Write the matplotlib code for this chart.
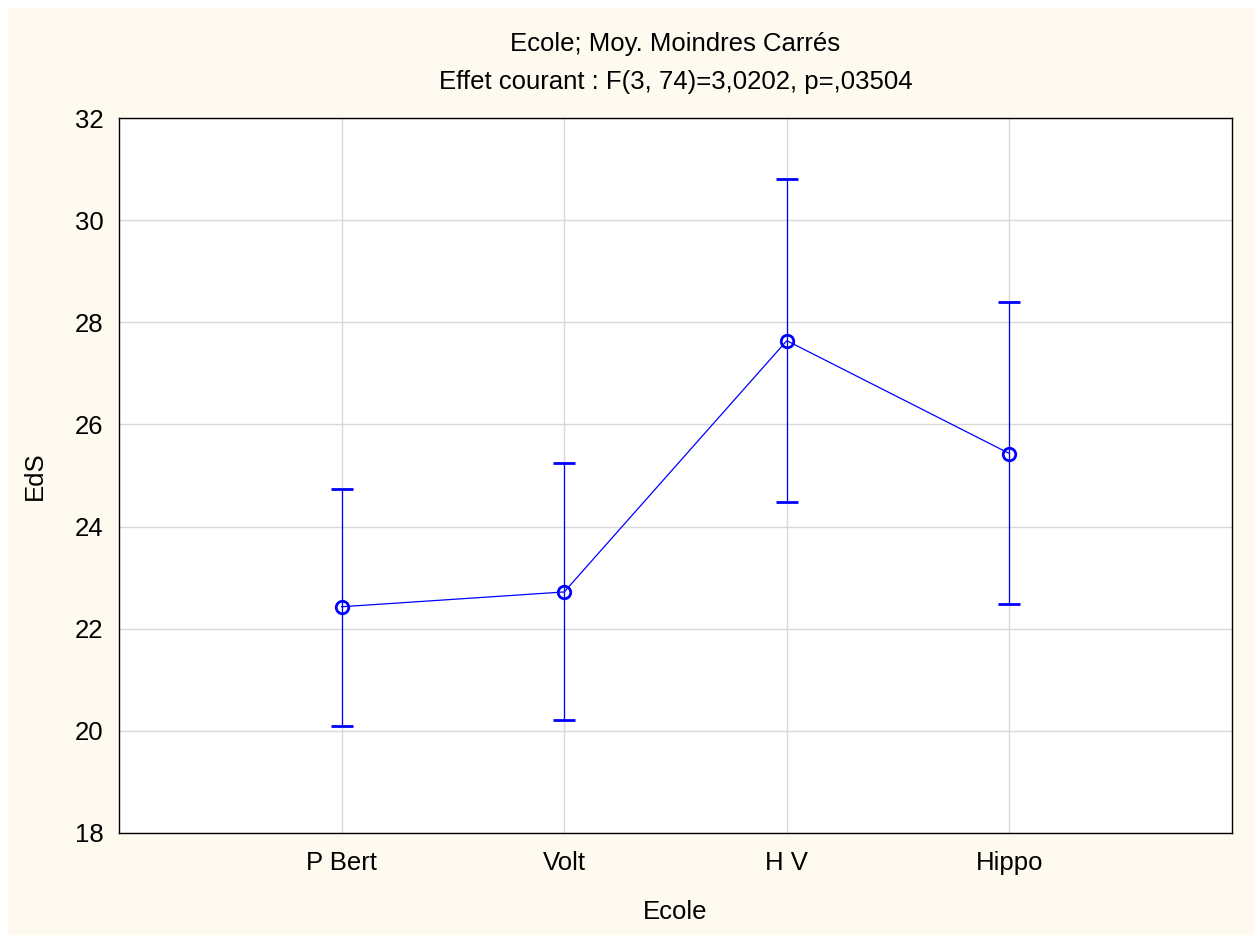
import numpy as np
import matplotlib.pyplot as plt
from matplotlib.patches import Rectangle

ecoles = ['P Bert', 'Volt', 'H V', 'Hippo']
moyennes = np.array([22.43, 22.72, 27.64, 25.43])
bas = np.array([20.10, 20.21, 24.48, 22.48])
haut = np.array([24.74, 25.24, 30.80, 28.40])

plt.rcParams['font.family'] = ['Liberation Sans', 'DejaVu Sans']

fig = plt.figure(figsize=(12.55, 9.35), dpi=100)
fig.patch.set_facecolor('white')
# fond crème avec une petite marge blanche en haut et à gauche
fig.patches.append(Rectangle((8 / 1255, -0.01), 1.02, 1.01 - 8 / 935, transform=fig.transFigure,
                             facecolor='#fffaf0', edgecolor='none', zorder=-10))

ax = fig.add_axes([119 / 1255, 1 - 833 / 935, (1232 - 119) / 1255, (833 - 118) / 935])
ax.set_facecolor('white')

x = np.arange(len(ecoles))
ax.errorbar(x, moyennes, yerr=[moyennes - bas, haut - moyennes], color='#0000ff',
            lw=0.9, elinewidth=0.9, capsize=8, capthick=0.9, marker='o', ms=9,
            mfc='none', mec='#0000ff', mew=2, zorder=3)

ax.set_xlim(-1, 4)
ax.set_ylim(18, 32)
ax.set_xticks(x)
ax.set_xticklabels(ecoles)
ax.set_yticks(np.arange(18, 33, 2))
ax.grid(True, color='#d8d8d8', lw=1)
ax.set_axisbelow(True)
ax.tick_params(labelsize=18.5, length=0)
ax.tick_params(axis='y', pad=11)
ax.tick_params(axis='x', pad=13)
for s in ax.spines.values():
    s.set_color('black')
    s.set_linewidth(1)

ax.set_xlabel('Ecole', fontsize=18.5, labelpad=18)
ax.set_ylabel('EdS', fontsize=18.5, labelpad=20)
ax.set_title('Ecole; Moy. Moindres Carrés\nEffet courant : F(3, 74)=3,0202, p=,03504',
             fontsize=18.5, linespacing=1.75, pad=21)

plt.savefig('out.png', dpi=100, facecolor=fig.get_facecolor())
